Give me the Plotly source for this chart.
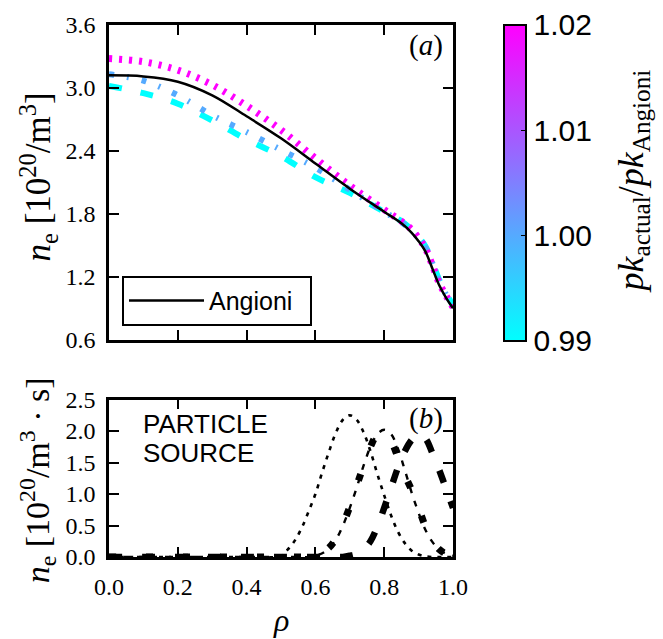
import plotly.graph_objects as go
from plotly.colors import sample_colorscale

# ---------------- data ----------------
rho_top = [0.0, 0.1, 0.2, 0.3, 0.4, 0.5, 0.6, 0.7, 0.8, 0.85, 0.88, 0.9, 0.92, 0.94, 0.96, 0.98, 1.0]
ne_angioni = [3.12, 3.11, 3.06, 2.93, 2.73, 2.52, 2.28, 2.04, 1.82, 1.71, 1.62, 1.54, 1.44, 1.28, 1.12, 1.00, 0.90]

pk_ratios = [0.99, 1.00, 1.02]
ne_pk_099 = [3.02, 2.95, 2.85, 2.69, 2.51, 2.35, 2.15, 2.00, 1.82, 1.73, 1.65, 1.58, 1.49, 1.34, 1.17, 1.04, 0.93]
ne_pk_100 = [3.13, 3.07, 2.93, 2.74, 2.58, 2.41, 2.24, 2.03, 1.82, 1.72, 1.64, 1.57, 1.48, 1.33, 1.16, 1.03, 0.92]
ne_pk_102 = [3.28, 3.25, 3.17, 3.03, 2.83, 2.60, 2.33, 2.07, 1.84, 1.73, 1.65, 1.57, 1.47, 1.31, 1.14, 1.02, 0.91]

rho_src = [0.0, 0.1, 0.2, 0.3, 0.4, 0.5, 0.52, 0.54, 0.56, 0.58, 0.60, 0.62, 0.64, 0.66, 0.68, 0.70,
           0.72, 0.74, 0.76, 0.78, 0.80, 0.82, 0.84, 0.86, 0.88, 0.90, 0.92, 0.94, 0.96, 0.98, 1.0]
src_1 = [0, 0, 0, 0, 0, 0.02, 0.12, 0.26, 0.46, 0.72, 1.00, 1.35, 1.68, 1.98, 2.18, 2.25,
         2.18, 1.98, 1.68, 1.32, 0.98, 0.66, 0.40, 0.22, 0.10, 0.04, 0.01, 0, 0, 0, 0]
src_2 = [0, 0, 0, 0, 0, 0, 0, 0, 0, 0, 0.02, 0.06, 0.14, 0.28, 0.50, 0.78,
         1.10, 1.45, 1.75, 1.95, 2.02, 1.95, 1.72, 1.38, 1.02, 0.70, 0.43, 0.24, 0.12, 0.05, 0.02]
src_3 = [0, 0, 0, 0, 0, 0, 0, 0, 0, 0, 0.03, 0.07, 0.15, 0.29, 0.52, 0.80,
         1.13, 1.45, 1.75, 1.94, 1.96, 1.84, 1.58, 1.30, 1.06, 0.78, 0.48, 0.26, 0.12, 0.05, 0.02]
src_4 = [0, 0, 0, 0, 0, 0, 0, 0, 0, 0, 0, 0, 0, 0, 0, 0.02,
         0.05, 0.12, 0.25, 0.48, 0.78, 1.10, 1.42, 1.68, 1.86, 1.95, 1.88, 1.65, 1.38, 1.08, 0.78]

top_yticks = [0.6, 1.2, 1.8, 2.4, 3.0, 3.6]
bot_yticks = [0.0, 0.5, 1.0, 1.5, 2.0, 2.5]
xticks = [0.0, 0.2, 0.4, 0.6, 0.8, 1.0]
cbar_ticks = [0.99, 1.00, 1.01, 1.02]

# ---------------- styling ----------------
COOL = [[0, 'rgb(0,255,255)'], [1, 'rgb(255,0,255)']]
CMIN, CMAX = 0.99, 1.02
SERIF = "Liberation Serif"
SANS = "Liberation Sans"

def cool_color(v):
    return sample_colorscale(COOL, [(v - CMIN) / (CMAX - CMIN)])[0]

fig = go.Figure()

pk_series = [ne_pk_099, ne_pk_100, ne_pk_102]
pk_styles = [dict(width=6, dash="13px,19px"),
             dict(width=6, dash="5px,13px,2px,13px"),
             dict(width=7, dash="3px,7px")]
for pk, ne, st in zip(pk_ratios, pk_series, pk_styles):
    fig.add_trace(go.Scatter(x=rho_top, y=ne, mode="lines", line_shape="spline",
                             line=dict(color=cool_color(pk), **st),
                             showlegend=False, hoverinfo="skip", xaxis="x", yaxis="y"))

fig.add_trace(go.Scatter(x=rho_top, y=ne_angioni, mode="lines", line_shape="spline",
                         line=dict(color="black", width=2.5),
                         name="<span style='font-size:46px'>\u200b</span>Angioni\u2002",
                         showlegend=True, xaxis="x", yaxis="y"))

# colour bar carrier (point outside the visible range)
fig.add_trace(go.Scatter(x=[0.5], y=[-5], mode="markers", showlegend=False, hoverinfo="skip",
                         marker=dict(color=[1.0], cmin=CMIN, cmax=CMAX, colorscale=COOL,
                                     showscale=True,
                                     colorbar=dict(x=(504 - 109) / 344, xanchor="left", xref="paper",
                                                   y=(557 - 181.5) / 534, yanchor="middle",
                                                   len=317 / 534, lenmode="fraction",
                                                   thickness=22, thicknessmode="pixels",
                                                   outlinecolor="black", outlinewidth=2,
                                                   tickvals=cbar_ticks,
                                                   ticktext=["%.2f" % t for t in cbar_ticks],
                                                   ticks="inside", ticklen=6, tickcolor="black",
                                                   tickfont=dict(family=SANS, size=30, color="black"),
                                                   xpad=0, ypad=0)),
                         xaxis="x", yaxis="y"))

src_series = [src_1, src_2, src_3, src_4]
src_styles = [dict(width=2.6, dash="4px,6px"),
              dict(width=2.4, dash="6px,8px"),
              dict(width=7, dash="7px,30px"),
              dict(width=6.5, dash="13px,20px")]
for s, st in zip(src_series, src_styles):
    fig.add_trace(go.Scatter(x=rho_src, y=s, mode="lines", line_shape="spline",
                             line=dict(color="black", **st), showlegend=False,
                             hoverinfo="skip", xaxis="x2", yaxis="y2"))

axis_common = dict(showgrid=False, zeroline=False, showline=True, linecolor="black", linewidth=2.5,
                   mirror="ticks", ticks="inside", ticklen=10, tickwidth=1.5, tickcolor="black",
                   tickfont=dict(family=SERIF, size=24, color="black"))

top_dom = [(557 - 339) / 534, 1.0]
bot_dom = [0.0, (557 - 399) / 534]

fig.update_layout(
    width=663, height=639,
    margin=dict(l=109, r=210, t=23, b=82),
    paper_bgcolor="white", plot_bgcolor="white",
    xaxis=dict(domain=[0, 1], range=[0, 1], tickvals=xticks, showticklabels=False,
               anchor="y", **axis_common),
    yaxis=dict(domain=top_dom, range=[0.6, 3.6], tickvals=top_yticks,
               ticktext=["%.1f" % v for v in top_yticks], anchor="x", ticklabelstandoff=6,
               **axis_common),
    xaxis2=dict(domain=[0, 1], range=[0, 1], tickvals=xticks,
                ticktext=["%.1f" % v for v in xticks], anchor="y2", ticklabelstandoff=6,
                **axis_common),
    yaxis2=dict(domain=bot_dom, range=[0, 2.5], tickvals=bot_yticks,
                ticktext=["%.1f" % v for v in bot_yticks], anchor="x2", ticklabelstandoff=6,
                **axis_common),
    legend=dict(x=(122 - 109) / 344, y=(557 - 325) / 534, xanchor="left", yanchor="bottom",
                bgcolor="white", bordercolor="black", borderwidth=2,
                font=dict(family=SANS, size=25, color="black"), itemwidth=75),
    showlegend=True,
)

ann = [
    dict(text="(<i>a</i>)", x=(445 - 109) / 344, y=(557 - 25) / 534, xanchor="right", yanchor="top",
         font=dict(family=SERIF, size=29)),
    dict(text="(<i>b</i>)", x=(445 - 109) / 344, y=(557 - 399) / 534, xanchor="right", yanchor="top",
         font=dict(family=SERIF, size=29)),
    dict(text="PARTICLE", x=(141 - 109) / 344, y=(557 - 424) / 534, xanchor="left",
         yanchor="middle", font=dict(family=SANS, size=26)),
    dict(text="SOURCE", x=(141 - 109) / 344, y=(557 - 453) / 534, xanchor="left",
         yanchor="middle", font=dict(family=SANS, size=26)),
    dict(text="<i>n</i><sub>e</sub> [10<sup>20</sup>/m<sup>3</sup>]", x=(38 - 109) / 344,
         y=(557 - 176) / 534, xanchor="center", yanchor="middle", textangle=-90,
         font=dict(family=SERIF, size=35)),
    dict(text="<i>n</i><sub>e</sub> [10<sup>20</sup>/m<sup>3</sup> · s]", x=(37 - 109) / 344,
         y=(557 - 480) / 534, xanchor="center", yanchor="middle", textangle=-90,
         font=dict(family=SERIF, size=34)),
    dict(text="<i>ρ</i>", x=0.5, y=(557 - 620) / 534, xanchor="center", yanchor="middle",
         font=dict(family=SERIF, size=32)),
    dict(text="<i>pk</i><sub>actual</sub>/<i>pk</i><sub>Angioni</sub>", x=(633 - 109) / 344,
         y=(557 - 180) / 534, xanchor="center", yanchor="middle", textangle=-90,
         font=dict(family=SERIF, size=36)),
]
for a in ann:
    a.update(xref="paper", yref="paper", showarrow=False)
    a["font"]["color"] = "black"
fig.update_layout(annotations=ann)

fig.write_html("out.html")
